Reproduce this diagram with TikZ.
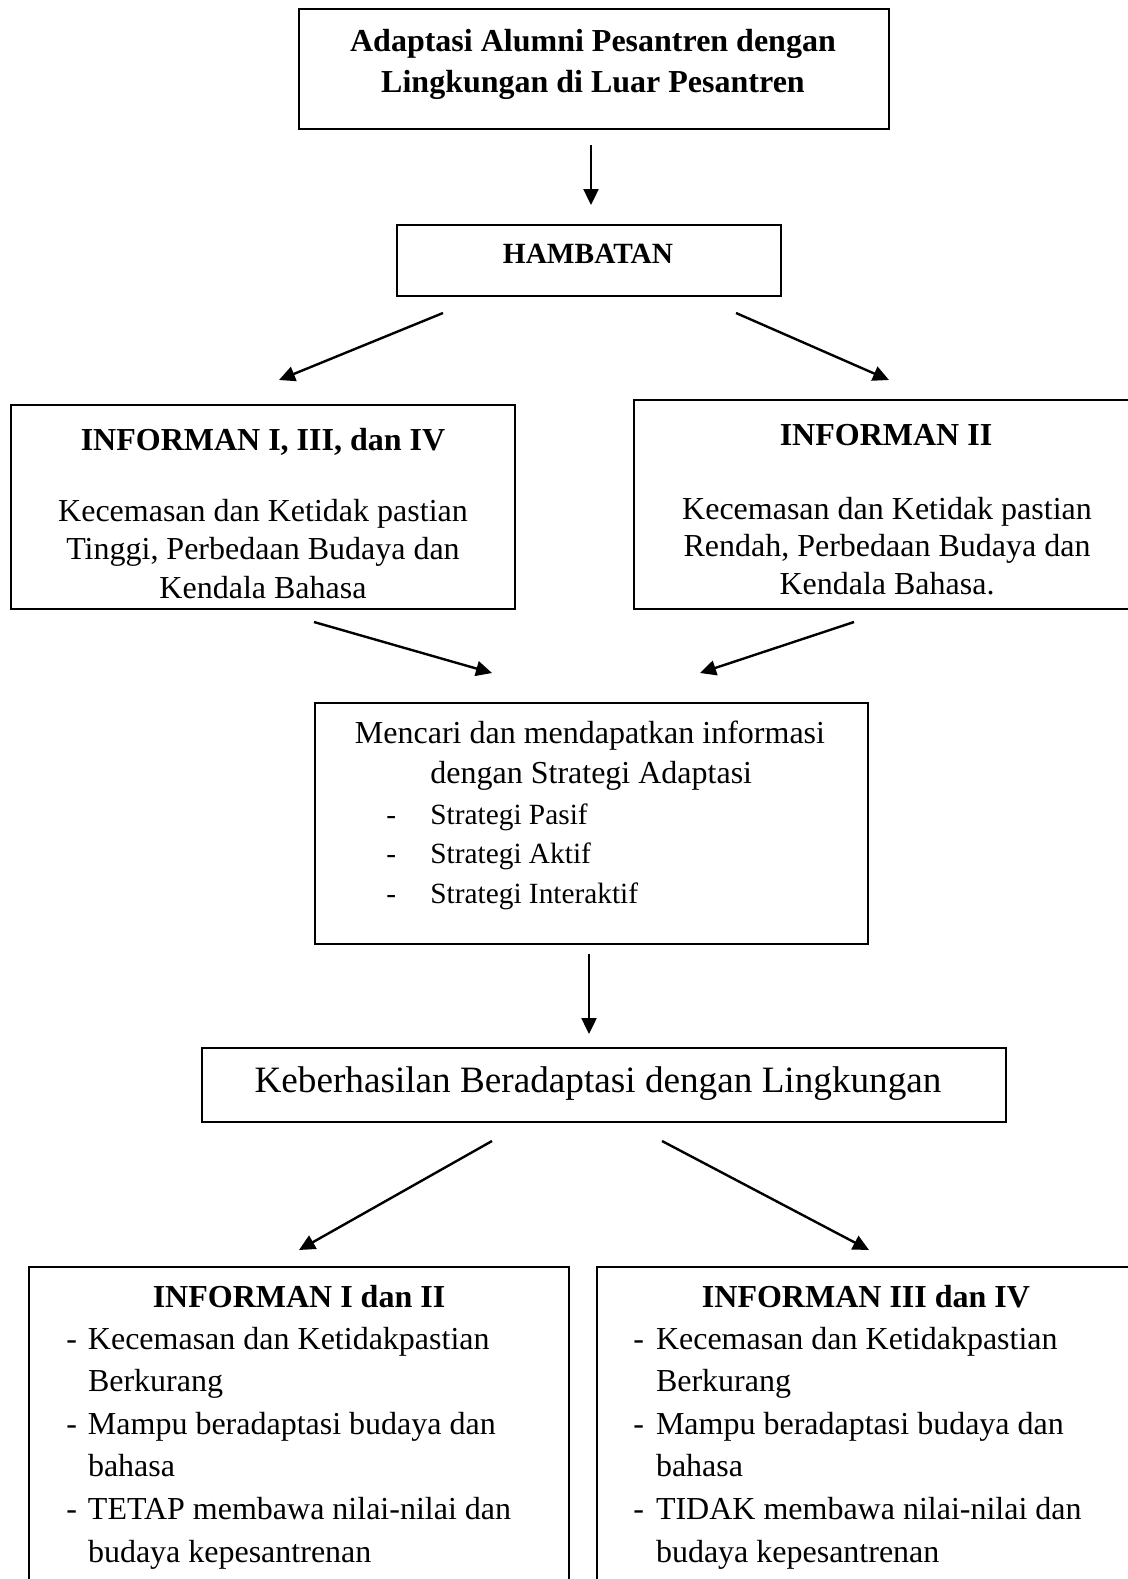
\documentclass[tikz,border=0pt]{standalone}
\usepackage{fontspec}
\setmainfont{Liberation Serif}
\usetikzlibrary{arrows.meta,positioning}

\begin{document}
\begin{tikzpicture}[x=0.5pt,y=-0.5pt,
    kotak/.style={draw,line width=1pt,anchor=north west,inner sep=0pt},
    teks/.style={inner sep=0pt,align=center},
    panah/.style={-{Triangle[length=8pt,width=7.5pt]},line width=1.2pt}]
  \useasboundingbox (0,0) rectangle (1128,1579);
  \clip (0,0) rectangle (1128,1579);

  % Judul
  \node[kotak,minimum width=295pt,minimum height=60pt] (judul) at (298,8) {};
  \node[teks,font=\bfseries\fontsize{16}{20.5}\selectfont] (tjudul) at (593,64)
    {Adaptasi Alumni Pesantren dengan\\Lingkungan di Luar Pesantren};

  % Hambatan
  \node[kotak,minimum width=192pt,minimum height=35.5pt] (hambatan) at (396,224) {};
  \node[teks,font=\bfseries\fontsize{14.67}{17}\selectfont] (thambatan) at (588,254) {HAMBATAN};

  % Informan kiri
  \node[kotak,minimum width=252pt,minimum height=102pt] (infkiri) at (10,404) {};
  \node[teks,font=\bfseries\fontsize{16}{19}\selectfont] (tinfkiri) at (263,442) {INFORMAN I, III, dan IV};
  \node[teks,font=\fontsize{16}{19.15}\selectfont] (isikiri) at (263,549)
    {Kecemasan dan Ketidak pastian\\Tinggi, Perbedaan Budaya dan\\Kendala Bahasa};

  % Informan kanan
  \node[kotak,minimum width=260pt,minimum height=104.5pt] (infkanan) at (633,399) {};
  \node[teks,font=\bfseries\fontsize{16}{19}\selectfont] (tinfkanan) at (886,435) {INFORMAN II};
  \node[teks,font=\fontsize{16}{18.85}\selectfont] (isikanan) at (887,546)
    {Kecemasan dan Ketidak pastian\\Rendah, Perbedaan Budaya dan\\Kendala Bahasa.};

  % Strategi
  \node[kotak,minimum width=276.5pt,minimum height=120.5pt] (strategi) at (314,702) {};
  \node[teks,font=\fontsize{16}{19}\selectfont] (tstrategi) at (590,736) {Mencari dan mendapatkan informasi};
  \node[teks,anchor=west,font=\fontsize{16}{19}\selectfont] (tstrategi2) at (430,776) {dengan Strategi Adaptasi};
  \node[teks,anchor=west,font=\fontsize{14.67}{19.75}\selectfont] (daftar) at (386,856)
    {\begin{tabular}{@{}p{22pt}@{}l@{}}
      - & Strategi Pasif\\
      - & Strategi Aktif\\
      - & Strategi Interaktif
    \end{tabular}};

  % Keberhasilan
  \node[kotak,minimum width=402pt,minimum height=37pt] (hasil) at (201,1047) {};
  \node[teks,font=\fontsize{18.6}{22}\selectfont] (thasil) at (598,1084) {Keberhasilan Beradaptasi dengan Lingkungan};

  % Hasil kiri
  \node[kotak,minimum width=270pt,minimum height=170pt] (hasilkiri) at (28,1266) {};
  \node[teks,font=\bfseries\fontsize{16}{19}\selectfont] (thasilkiri) at (299,1297) {INFORMAN I dan II};
  \node[teks,anchor=west,font=\fontsize{16}{21.3}\selectfont] (daftarkiri) at (66,1447)
    {\begin{tabular}{@{}p{10.8pt}@{}l@{}}
      - & Kecemasan dan Ketidakpastian\\
        & Berkurang\\
      - & Mampu beradaptasi budaya dan\\
        & bahasa\\
      - & TETAP membawa nilai-nilai dan\\
        & budaya kepesantrenan
    \end{tabular}};

  % Hasil kanan
  \node[kotak,minimum width=280pt,minimum height=170pt] (hasilkanan) at (596,1266) {};
  \node[teks,font=\bfseries\fontsize{16}{19}\selectfont] (thasilkanan) at (866,1297) {INFORMAN III dan IV};
  \node[teks,anchor=west,font=\fontsize{16}{21.3}\selectfont] (daftarkanan) at (633,1447)
    {\begin{tabular}{@{}p{11.3pt}@{}l@{}}
      - & Kecemasan dan Ketidakpastian\\
        & Berkurang\\
      - & Mampu beradaptasi budaya dan\\
        & bahasa\\
      - & TIDAK membawa nilai-nilai dan\\
        & budaya kepesantrenan
    \end{tabular}};

  % Ujung panah
  \coordinate (p1a) at (591,145);  \coordinate (p1b) at (591,205);
  \coordinate (p2a) at (443,313);  \coordinate (p2b) at (279,380);
  \coordinate (p3a) at (736,313);  \coordinate (p3b) at (889,380);
  \coordinate (p4a) at (314,622);  \coordinate (p4b) at (492,673);
  \coordinate (p5a) at (854,622);  \coordinate (p5b) at (700,673);
  \coordinate (p6a) at (589,954);  \coordinate (p6b) at (589,1034);
  \coordinate (p7a) at (492,1141); \coordinate (p7b) at (299,1250);
  \coordinate (p8a) at (662,1141); \coordinate (p8b) at (869,1250);

  % Panah
  \draw[panah] (p1a) -- (p1b);
  \draw[panah] (p2a) -- (p2b);
  \draw[panah] (p3a) -- (p3b);
  \draw[panah] (p4a) -- (p4b);
  \draw[panah] (p5a) -- (p5b);
  \draw[panah] (p6a) -- (p6b);
  \draw[panah] (p7a) -- (p7b);
  \draw[panah] (p8a) -- (p8b);
\end{tikzpicture}
\end{document}
